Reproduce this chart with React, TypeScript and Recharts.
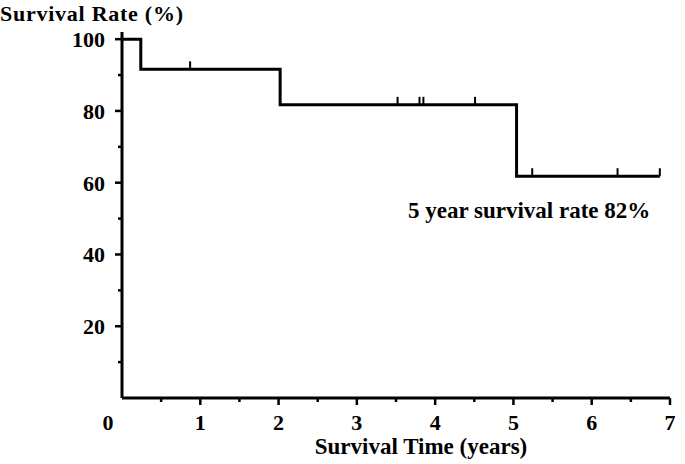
import { ComposedChart, Line, Scatter, XAxis, YAxis } from 'recharts'

// Kaplan-Meier step curve (time in years, survival rate in %)
const stepTimes = [0, 0.24, 2.02, 5.04, 6.87]
const stepRates = [100, 91.6, 81.7, 61.8, 61.8]

// censored cases (small vertical marks on the curve)
const censorTimes = [0.87, 3.52, 3.8, 3.85, 4.51, 5.24, 6.33, 6.87]
const censorRates = [91.6, 81.7, 81.7, 81.7, 81.7, 61.8, 61.8, 61.8]

const yTicks = [0, 10, 20, 30, 40, 50, 60, 70, 80, 90, 100]
const xTicks = [0, 0.5, 1, 1.5, 2, 2.5, 3, 3.5, 4, 4.5, 5, 5.5, 6, 6.5, 7]

const yTitle = 'Survival Rate (%)'
const xTitle = 'Survival Time (years)'
const note = '5 year survival rate 82%'

const curveData = stepTimes.map((t, i) => ({ t, s: stepRates[i] }))
const censorData = censorTimes.map((t, i) => ({ t, s: censorRates[i] }))

const FONT = "'Liberation Serif', 'Times New Roman', serif"

const YTick = (props: any) => {
	const { x, y, payload } = props
	const v = payload.value
	if (v === 0) return null
	const major = v % 20 === 0
	return (
		<g>
			<line x1={x} x2={x - (major ? 7 : 4)} y1={y} y2={y} stroke='#000' strokeWidth={2.5} />
			{major && (
				<text
					x={x - 17}
					y={y}
					dy='0.36em'
					textAnchor='end'
					fontFamily={FONT}
					fontWeight='bold'
					fontSize={22}
					fill='#000'>
					{v}
				</text>
			)}
		</g>
	)
}

const XTick = (props: any) => {
	const { x, y, payload } = props
	const v = payload.value
	const major = Number.isInteger(v)
	return (
		<g>
			{v > 0 && (
				<line x1={x} x2={x} y1={y} y2={y + (major ? 7 : 4)} stroke='#000' strokeWidth={2.5} />
			)}
			{major && (
				<text
					x={v === 0 ? x - 14 : x}
					y={y + 32}
					textAnchor='middle'
					fontFamily={FONT}
					fontWeight='bold'
					fontSize={22}
					fill='#000'>
					{v}
				</text>
			)}
		</g>
	)
}

const CensorMark = (props: any) => {
	const { cx, cy } = props
	return <line x1={cx} x2={cx} y1={cy} y2={cy - 8} stroke='#000' strokeWidth={2} />
}

export default function App() {
	return (
		<div style={{ position: 'absolute', left: 0, top: 0, width: 685, height: 464, background: '#fff' }}>
			<ComposedChart
				width={685}
				height={464}
				margin={{ top: 32, right: 15, bottom: 36, left: 0 }}>
				<XAxis
					dataKey='t'
					type='number'
					domain={[0, 7]}
					ticks={xTicks}
					interval={0}
					height={30}
					tickSize={0}
					tickMargin={0}
					tickLine={false}
					axisLine={{ stroke: '#000', strokeWidth: 3 }}
					tick={<XTick />}
				/>
				<YAxis
					type='number'
					domain={[0, 102]}
					ticks={yTicks}
					interval={0}
					width={122}
					tickSize={0}
					tickMargin={0}
					tickLine={false}
					axisLine={{ stroke: '#000', strokeWidth: 3 }}
					tick={<YTick />}
				/>
				<Line
					data={curveData}
					dataKey='s'
					type='stepAfter'
					stroke='#000'
					strokeWidth={3}
					dot={false}
					activeDot={false}
					isAnimationActive={false}
				/>
				<Scatter
					data={censorData}
					dataKey='s'
					shape={<CensorMark />}
					isAnimationActive={false}
				/>
			</ComposedChart>
			<svg
				width={685}
				height={464}
				style={{ position: 'absolute', left: 0, top: 0, pointerEvents: 'none' }}>
				<text
					x={0}
					y={21}
					textLength={183}
					lengthAdjust='spacing'
					fontFamily={FONT}
					fontWeight='bold'
					fontSize={22}
					fill='#000'>
					{yTitle}
				</text>
				<text
					x={421}
					y={454}
					textAnchor='middle'
					fontFamily={FONT}
					fontWeight='bold'
					fontSize={23}
					fill='#000'>
					{xTitle}
				</text>
				<text
					x={408}
					y={218}
					fontFamily={FONT}
					fontWeight='bold'
					fontSize={23}
					fill='#000'>
					{note}
				</text>
			</svg>
		</div>
	)
}
